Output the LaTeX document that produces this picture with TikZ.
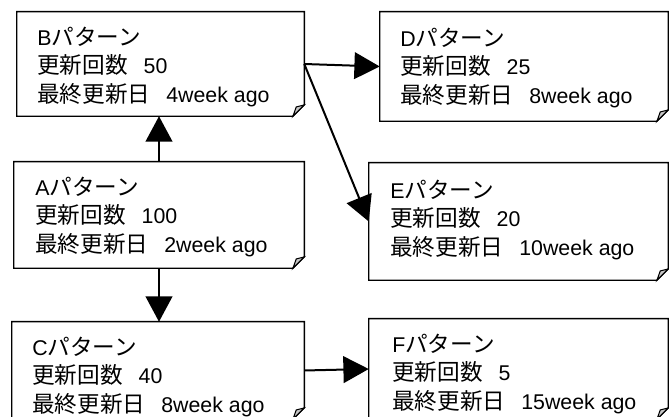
\documentclass[tikz,border=0pt]{standalone}
\usepackage{fontspec}
\setmainfont{Liberation Sans}
\newfontfamily\jp[Scale=1.06]{Noto Sans CJK JP}
\usetikzlibrary{arrows.meta}
\tikzset{
  notebox/.style={draw=none, inner sep=0pt},
  notetext/.style={inner sep=0pt, align=left, anchor=west,
    font=\fontsize{16pt}{21.5pt}\selectfont},
  arr/.style={line width=1.5pt, -{Triangle[width=20pt,length=19pt]}},
  outline/.style={line width=1.1pt},
  flap/.style={line width=0.8pt, fill=gray!45}
}
% \mknote{name}{L}{T}{R}{B}{textx}{midy}{text}
\newcommand{\mknote}[8]{%
  \node[notebox, minimum width={(#4-#2)*0.75pt}, minimum height={(#5-#3)*0.75pt}]
        (#1) at ({(#2+#4)/2},{(#3+#5)/2}) {};
  \draw[outline] (#1.north west) -- (#1.north east) -- ([yshift=8.5pt]#1.south east)
     -- ([xshift=-8.5pt]#1.south east) -- (#1.south west) -- cycle;
  \draw[flap] ([xshift=-8.5pt]#1.south east) -- ([xshift=-6pt,yshift=7pt]#1.south east)
     -- ([yshift=8.5pt]#1.south east) -- cycle;
  \node[notetext] (#1t) at (#6,#7) {#8};
}
\newcommand{\gap}{\hspace{0.75em}}
\begin{document}
\begin{tikzpicture}[x=0.75pt,y=-0.75pt]
\useasboundingbox (0,0) rectangle (669,417);
\clip (0,0) rectangle (669,417);
\mknote{B}{17}{12}{304}{116}{37}{67}{B{\jp パターン}\\{\jp 更新回数}\gap 50\\{\jp 最終更新日}\gap 4week ago}
\mknote{D}{380}{12}{668}{121}{400}{68}{D{\jp パターン}\\{\jp 更新回数}\gap 25\\{\jp 最終更新日}\gap 8week ago}
\mknote{E}{369}{163}{668}{280}{390}{220}{E{\jp パターン}\\{\jp 更新回数}\gap 20\\{\jp 最終更新日}\gap 10week ago}
\mknote{A}{14}{162}{304}{268}{35}{217}{A{\jp パターン}\\{\jp 更新回数}\gap 100\\{\jp 最終更新日}\gap 2week ago}
\mknote{C}{12}{322}{304}{419}{32}{377}{C{\jp パターン}\\{\jp 更新回数}\gap 40\\{\jp 最終更新日}\gap 8week ago}
\mknote{F}{369}{319}{668}{419}{392}{374}{F{\jp パターン}\\{\jp 更新回数}\gap 5\\{\jp 最終更新日}\gap 15week ago}
\draw[arr] (A.north) -- (A.north |- B.south);
\draw[arr] (A.south) -- (A.south |- C.north);
\draw[arr] (B.east) -- (D.west);
\draw[arr] (B.east) -- (E.west);
\draw[arr] (C.east) -- (F.west);
\end{tikzpicture}
\end{document}
